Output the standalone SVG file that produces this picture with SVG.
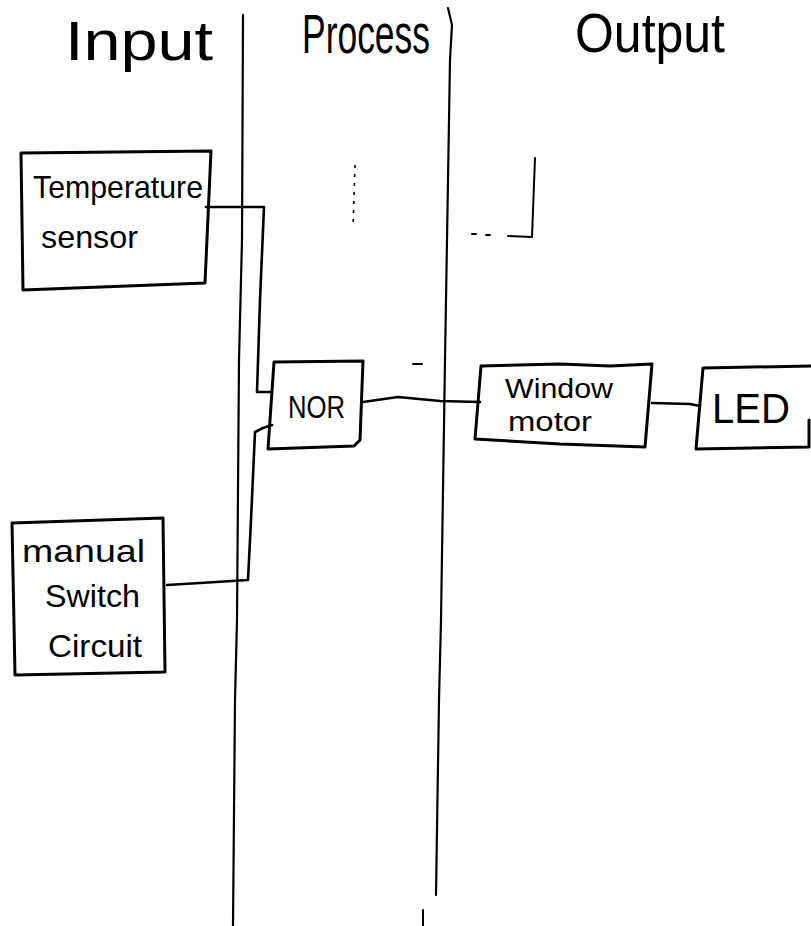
<svg xmlns="http://www.w3.org/2000/svg" width="811" height="926" viewBox="0 0 811 926">
  <style>
    .bg { fill: #ffffff; }
    .box { fill: none; stroke: #000; stroke-width: 3; stroke-linejoin: round; stroke-linecap: round; }
    .lane { fill: none; stroke: #000; stroke-width: 2.2; stroke-linecap: round; }
    .wire { fill: none; stroke: #000; stroke-width: 2.6; stroke-linejoin: round; stroke-linecap: round; }
    .stray { fill: none; stroke: #000; stroke-width: 2; stroke-linecap: round; }
    .dots { fill: none; stroke: #000; stroke-width: 1.6; stroke-dasharray: 3 6; }
    .hdr { font-family: "Liberation Sans", "DejaVu Sans", sans-serif; font-size: 56px; fill: #000; }
    .lbl { font-family: "Liberation Sans", "DejaVu Sans", sans-serif; font-size: 32px; fill: #000; }
    .sm { font-family: "Liberation Sans", "DejaVu Sans", sans-serif; font-size: 27px; fill: #000; }
  </style>
  <rect class="bg" x="0" y="0" width="811" height="926"/>

  <g id="lanes">
    <path class="lane" d="M243,15 L242,240 L239,360 L237,620 L235,700 L233,926"/>
    <path class="lane" d="M448,8 L452,25 L450,60 L449,120 L446,300 L445,360 L441,620 L439,700 L436,895"/>
  </g>

  <g id="headers">
    <text class="hdr" x="65" y="60" textLength="148" lengthAdjust="spacingAndGlyphs">Input</text>
    <text class="hdr" x="302" y="53" textLength="128" lengthAdjust="spacingAndGlyphs">Process</text>
    <text class="hdr" x="575" y="52" textLength="150" lengthAdjust="spacingAndGlyphs">Output</text>
  </g>

  <g id="temperature-sensor">
    <path class="box" d="M21,153 L211,151 L205,283 L23,290 Z"/>
    <text class="lbl" x="33" y="198" textLength="170" lengthAdjust="spacingAndGlyphs">Temperature</text>
    <text class="lbl" x="41" y="248" textLength="97" lengthAdjust="spacingAndGlyphs">sensor</text>
  </g>

  <g id="manual-switch-circuit">
    <path class="box" d="M12,523 L163,518 L165,672 L15,675 Z"/>
    <text class="lbl" x="22" y="562" textLength="123" lengthAdjust="spacingAndGlyphs">manual</text>
    <text class="lbl" x="45" y="607" textLength="95" lengthAdjust="spacingAndGlyphs">Switch</text>
    <text class="lbl" x="48" y="657" textLength="94" lengthAdjust="spacingAndGlyphs">Circuit</text>
  </g>

  <g id="nor">
    <path class="box" d="M274,362 L363,361 L360,440 L354,446 L268,449 Z"/>
    <text class="lbl" x="288" y="418" textLength="57" lengthAdjust="spacingAndGlyphs">NOR</text>
  </g>

  <g id="window-motor">
    <path class="box" d="M481,366 L560,364 L610,366 L652,364 L645,447 L560,444 L475,439 Z"/>
    <text class="sm" x="505" y="398" textLength="108" lengthAdjust="spacingAndGlyphs">Window</text>
    <text class="sm" x="508" y="431" textLength="84" lengthAdjust="spacingAndGlyphs">motor</text>
  </g>

  <g id="led">
    <path class="box" d="M811,366 L703,368 L696,449 L809,447 L809,420"/>
    <text class="lbl" x="712" y="423" textLength="78" lengthAdjust="spacingAndGlyphs" style="font-size:42px">LED</text>
  </g>

  <g id="connectors">
    <path class="wire" d="M206,207 L264,207 L260,300 L257,392 L272,392"/>
    <path class="wire" d="M167,585 L200,583 L248,580 L251,520 L255,432 L263,428 L272,425"/>
    <path class="wire" d="M363,402 L398,397 L440,401 L480,402"/>
    <path class="wire" d="M652,403 L690,404 L700,406"/>
  </g>

  <g id="marks">
    <path class="stray" d="M535,158 L532,237 L508,236"/>
    <path class="stray" d="M472,234 L476,234 M486,235 L490,235"/>
    <path class="dots" d="M355,165 L353,228"/>
    <path class="stray" d="M413,364 L422,364"/>
    <path class="stray" d="M423,910 L423,926"/>
  </g>
</svg>
